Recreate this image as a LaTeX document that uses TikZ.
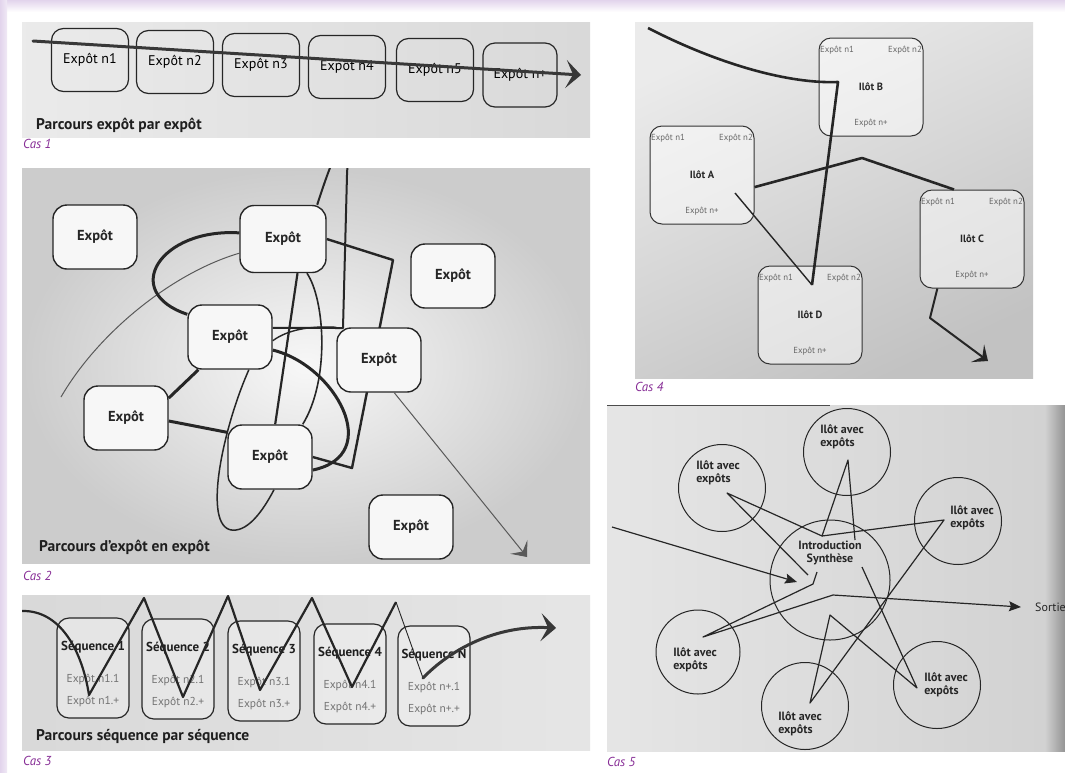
\documentclass[tikz,border=0pt]{standalone}
\usepackage{fontspec}
\setmainfont{PT Sans}
\usepackage{xcolor}
\definecolor{casviolet}{RGB}{135,45,150}
\definecolor{lavande}{RGB}{226,212,236}
\usepackage{tikz}
\usetikzlibrary{arrows.meta, positioning, calc}
\pgfdeclarelayer{fond}
\pgfdeclarelayer{traits}
\pgfsetlayers{fond,traits,main}

\begin{document}
\begin{tikzpicture}[x=1pt, y=-1pt,
    caslab/.style={anchor=west, inner sep=0pt, text=casviolet,
      font=\itshape\fontsize{13}{15}\selectfont},
    titre/.style={anchor=west, inner sep=0pt, text=black!88,
      font=\bfseries\fontsize{15.5}{18}\selectfont},
    expbox/.style={rectangle, rounded corners=12pt, draw=black!85,
      line width=1.2pt, minimum width=77pt, minimum height=63pt,
      font=\fontsize{14}{16}\selectfont},
    libbox/.style={rectangle, rounded corners=14pt, draw=black!85,
      line width=1.4pt, fill=black!3, minimum width=84pt,
      minimum height=64pt, text=black!85,
      font=\bfseries\fontsize{14.5}{16}\selectfont},
    seqbox/.style={rectangle, rounded corners=12pt, draw=black!85,
      line width=1.2pt, fill=white, fill opacity=0.3,
      minimum width=72pt, minimum height=100pt},
    seqtxt/.style={align=center, inner sep=0pt, text=black!55,
      font=\fontsize{11.5}{22}\selectfont},
    ilotbox/.style={rectangle, rounded corners=12pt, draw=black!80,
      line width=1pt, fill=white, fill opacity=0.5, text opacity=1,
      minimum width=104pt, minimum height=98pt, text=black!85,
      font=\bfseries\fontsize{10.5}{12}\selectfont},
    petit/.style={inner sep=0pt, text=black!60,
      font=\fontsize{8.8}{10}\selectfont},
    rond/.style={circle, draw=black!85, line width=1pt,
      minimum size=87pt, inner sep=0pt},
    rondtxt/.style={align=left, inner sep=0pt, text=black!85,
      font=\bfseries\fontsize{12}{13}\selectfont},
    pinceau/.style={line width=3pt, draw=black!78, line cap=round},
    trait/.style={line width=2.4pt, draw=black!85, line join=round},
    fil/.style={line width=1.2pt, draw=black!85, line join=round},
    grandchev/.style={-{Stealth[length=15pt, width=28pt, inset=7pt]}},
    moyenchev/.style={-{Stealth[length=13pt, width=22pt, inset=6pt]}},
    pointe/.style={-{Stealth[length=12pt, width=10pt, inset=2pt]}}
]
\useasboundingbox (0,0) rectangle (1065,772);

%% fonds des cinq cas
\begin{pgfonlayer}{fond}
\fill[white] (0,0) rectangle (1065,772);
\shade[top color=lavande, bottom color=white] (0,0) rectangle (1065,12);
\shade[left color=lavande, right color=lavande!50] (0,0) rectangle (7,772);
\shade[left color=black!8, right color=black!15] (22,22) rectangle (590,137);
\shade[inner color=black!3, outer color=black!20] (22,168) rectangle (590,563);
\shade[left color=black!15, right color=black!10] (22,595) rectangle (590,750);
\shade[top color=black!8, bottom color=black!24, shading angle=25]
  (635,22) rectangle (1033,378);
\shade[left color=black!10, right color=black!18] (607,405) rectangle (1065,751);
\shade[left color=black!18, right color=black!42] (1045,405) rectangle (1065,751);
\draw[black!70, line width=1.2pt] (607,405.6) -- (830,405.6);
\end{pgfonlayer}

%% Cas 1 : expôt par expôt
\node[expbox] (n1) at (90,60) {Expôt n1};
\node[expbox] (n2) at (175,62) {Expôt n2};
\node[expbox] (n3) at (261,65) {Expôt n3};
\node[expbox] (n4) at (347,67) {Expôt n4};
\node[expbox] (n5) at (435,70) {Expôt n5};
\node[expbox, minimum width=74pt, minimum height=64pt] (n6) at (520,75) {Expôt n+};
\coordinate (d1) at (33,41);
\coordinate (f1) at (581,75);
\draw[pinceau, grandchev] (d1) -- (f1);
\node[titre] (t1) at (36,125) {Parcours expôt par expôt};
\node[caslab] (k1) at (23,144) {Cas 1};

%% Cas 2 : d'expôt en expôt
\node[libbox] (e1) at (95,237) {Expôt};
\node[libbox, minimum width=86pt, minimum height=67pt] (e2) at (283,239) {Expôt};
\node[libbox] (e3) at (453,276) {Expôt};
\node[libbox] (e4) at (230,337) {Expôt};
\node[libbox] (e5) at (379,360) {Expôt};
\node[libbox] (e6) at (126,418) {Expôt};
\node[libbox] (e7) at (270,457) {Expôt};
\node[libbox] (e8) at (411,527) {Expôt};
\begin{pgfonlayer}{traits}
\begin{scope}
\clip (22,168) rectangle (590,563);
\coordinate (d2) at (61,397);
\draw[line width=1pt, black!65] (d2) .. controls (100,330) and (175,272) .. (e2.-162);
\draw[trait, line width=3pt] (e2.172) .. controls (160,228) and (120,292) .. (e4.152);
\draw[trait] (e2.east) -- (393,260) -- (352,468) -- (e7.east);
\draw[trait, line width=2pt] (e2.45) .. controls (338,140) and (350,120) .. (347,175)
  -- (343,328) -- (e4.12);
\draw[fil, line width=1.4pt] (e4.-5) .. controls (290,328) and (315,326) .. (e5.north west);
\draw[trait, line width=2.2pt] (e2.-67) -- (e7.81);
\draw[fil, line width=1.6pt] (e2.-55) .. controls (325,300) and (330,380) .. (e7.45);
\draw[trait, line width=3pt] (e4.-17) .. controls (335,365) and (385,455) .. (e7.-17);
\draw[fil, line width=1.5pt] (e4.-60) .. controls (222,430) and (200,535) .. (236,530)
  .. controls (252,528) and (266,505) .. (e7.-83);
\draw[trait, line width=3pt] (e4.-134) -- (e6.25);
\draw[trait, line width=3pt] (e6.-4) -- (e7.150);
\end{scope}
\end{pgfonlayer}
\coordinate (f2) at (527,557);
\draw[line width=1pt, black!65, moyenchev] (e5.-65) -- (f2);
\node[titre] (t2) at (39,547) {Parcours d’expôt en expôt};
\node[caslab] (k2) at (23,576) {Cas 2};

%% Cas 3 : séquence par séquence
\node[seqbox] (s1) at (93,668) {};
\node[seqbox] (s2) at (178,669) {};
\node[seqbox] (s3) at (264,671) {};
\node[seqbox] (s4) at (350,674) {};
\node[seqbox] (s5) at (434,676) {};
\node[seqtxt, yshift=-6pt] (s1t) at (s1)
  {{\bfseries\fontsize{13}{22}\selectfont\color{black!88}Séquence 1}\\[10pt]Expôt n1.1\\Expôt n1.+};
\node[seqtxt, yshift=-6pt] (s2t) at (s2)
  {{\bfseries\fontsize{13}{22}\selectfont\color{black!88}Séquence 2}\\[10pt]Expôt n2.1\\Expôt n2.+};
\node[seqtxt, yshift=-6pt] (s3t) at (s3)
  {{\bfseries\fontsize{13}{22}\selectfont\color{black!88}Séquence 3}\\[10pt]Expôt n3.1\\Expôt n3.+};
\node[seqtxt, yshift=-6pt] (s4t) at (s4)
  {{\bfseries\fontsize{13}{22}\selectfont\color{black!88}Séquence 4}\\[10pt]Expôt n4.1\\Expôt n4.+};
\node[seqtxt, yshift=-6pt] (s5t) at (s5)
  {{\bfseries\fontsize{13}{22}\selectfont\color{black!88}Séquence N}\\[10pt]Expôt n+.1\\Expôt n+.+};
\coordinate (d3) at (22,611);
\coordinate (v5) at (396,602);
\coordinate (v6) at (423,678);
\coordinate (f3) at (556,628);
\begin{scope}
\clip (22,595) rectangle (590,750);
\draw[trait, line width=2.2pt] (d3) .. controls (60,610) and (82,650) .. (89,695)
  -- (144,598) -- (183,697) -- (228,596) -- (260,690) -- (312,598) -- (352,687) -- (v5);
\end{scope}
\draw[fil, line width=0.9pt] (v5) -- (v6);
\draw[pinceau, grandchev] (v6) .. controls (450,650) and (495,625) .. (f3);
\node[titre] (t3) at (36,736) {Parcours séquence par séquence};
\node[caslab] (k3) at (23,761) {Cas 3};

%% Cas 4 : îlots
\node[ilotbox] (ilb) at (871,87) {Ilôt B};
\node[ilotbox] (ila) at (702,175) {Ilôt A};
\node[ilotbox] (ilc) at (972,239) {Ilôt C};
\node[ilotbox] (ild) at (810,315) {Ilôt D};
\node[petit, below right=8pt and 1.5pt of ila.north west] (ila1) {Expôt n1};
\node[petit, below left=8pt and 1.5pt of ila.north east] (ila2) {Expôt n2};
\node[petit, above=9pt of ila.south] (ila3) {Expôt n+};
\node[petit, below right=8pt and 1.5pt of ilb.north west] (ilb1) {Expôt n1};
\node[petit, below left=8pt and 1.5pt of ilb.north east] (ilb2) {Expôt n2};
\node[petit, above=9pt of ilb.south] (ilb3) {Expôt n+};
\node[petit, below right=8pt and 1.5pt of ilc.north west] (ilc1) {Expôt n1};
\node[petit, below left=8pt and 1.5pt of ilc.north east] (ilc2) {Expôt n2};
\node[petit, above=9pt of ilc.south] (ilc3) {Expôt n+};
\node[petit, below right=8pt and 1.5pt of ild.north west] (ild1) {Expôt n1};
\node[petit, below left=8pt and 1.5pt of ild.north east] (ild2) {Expôt n2};
\node[petit, above=9pt of ild.south] (ild3) {Expôt n+};
\coordinate (d4) at (648,28);
\coordinate (qb) at (838,82);
\coordinate (qd) at (812,285);
\coordinate (qa) at (735,193);
\coordinate (f4) at (988,361);
\draw[trait, line width=2.6pt] (d4) .. controls (720,65) and (790,84) .. (qb) -- (qd);
\draw[fil, line width=1.4pt] (qd) -- (qa);
\draw[trait, line width=2.6pt] (ila.-13) -- (862,158) -- (ilc.110);
\draw[trait, line width=2pt, moyenchev] (ilc.-125) -- (930,318) -- (f4);
\node[caslab] (k4) at (635,387) {Cas 4};

%% Cas 5 : étoile autour de l'introduction
\node[rond, minimum size=120pt] (ci) at (830,580) {};
\node[rondtxt, align=center] (tci) at (830,553) {Introduction\\Synthèse};
\node[rond] (ct) at (847,452) {};
\node[rondtxt] (tct) at (842,437) {Ilôt avec\\expôts};
\node[rond] (cul) at (722,488) {};
\node[rondtxt] (tcul) at (718,473) {Ilôt avec\\expôts};
\node[rond] (cr) at (958,521) {};
\node[rondtxt] (tcr) at (972,518) {Ilôt avec\\expôts};
\node[rond, minimum size=84pt] (cll) at (698,652) {};
\node[rondtxt] (tcll) at (695,660) {Ilôt avec\\expôts};
\node[rond] (cb) at (805,706) {};
\node[rondtxt] (tcb) at (800,724) {Ilôt avec\\expôts};
\node[rond] (clr) at (937,685) {};
\node[rondtxt] (tclr) at (946,685) {Ilôt avec\\expôts};
\node[anchor=west, inner sep=0pt, text=black!85, font=\fontsize{12}{14}\selectfont]
  (sortie) at (1035,607) {Sortie};
\coordinate (d5) at (612,527);
\coordinate (f5) at (797,582);
\coordinate (g1) at (808,575);
\coordinate (gul) at (727,493);
\coordinate (g2) at (822,536);
\coordinate (gt) at (848,460);
\coordinate (g3) at (855,540);
\coordinate (gr) at (944,520);
\coordinate (gb) at (810,703);
\coordinate (g4) at (830,615);
\coordinate (glr) at (917,688);
\coordinate (g5) at (862,567);
\coordinate (g6) at (817,572);
\coordinate (g7) at (813,584);
\coordinate (gll) at (703,637);
\coordinate (g8) at (833,595);
\draw[fil, pointe] (d5) -- (f5);
\draw[fil] (g1) -- (gul) -- (g2) -- (gt) -- (g3);
\draw[fil] (g2) -- (gr) -- (gb) -- (g4) -- (glr) -- (g5);
\draw[fil, pointe] (g6) -- (g7) -- (gll) -- (g8) -- ([xshift=-14pt]sortie.west);
\node[caslab] (k5) at (607,762) {Cas 5};
\end{tikzpicture}
\end{document}
